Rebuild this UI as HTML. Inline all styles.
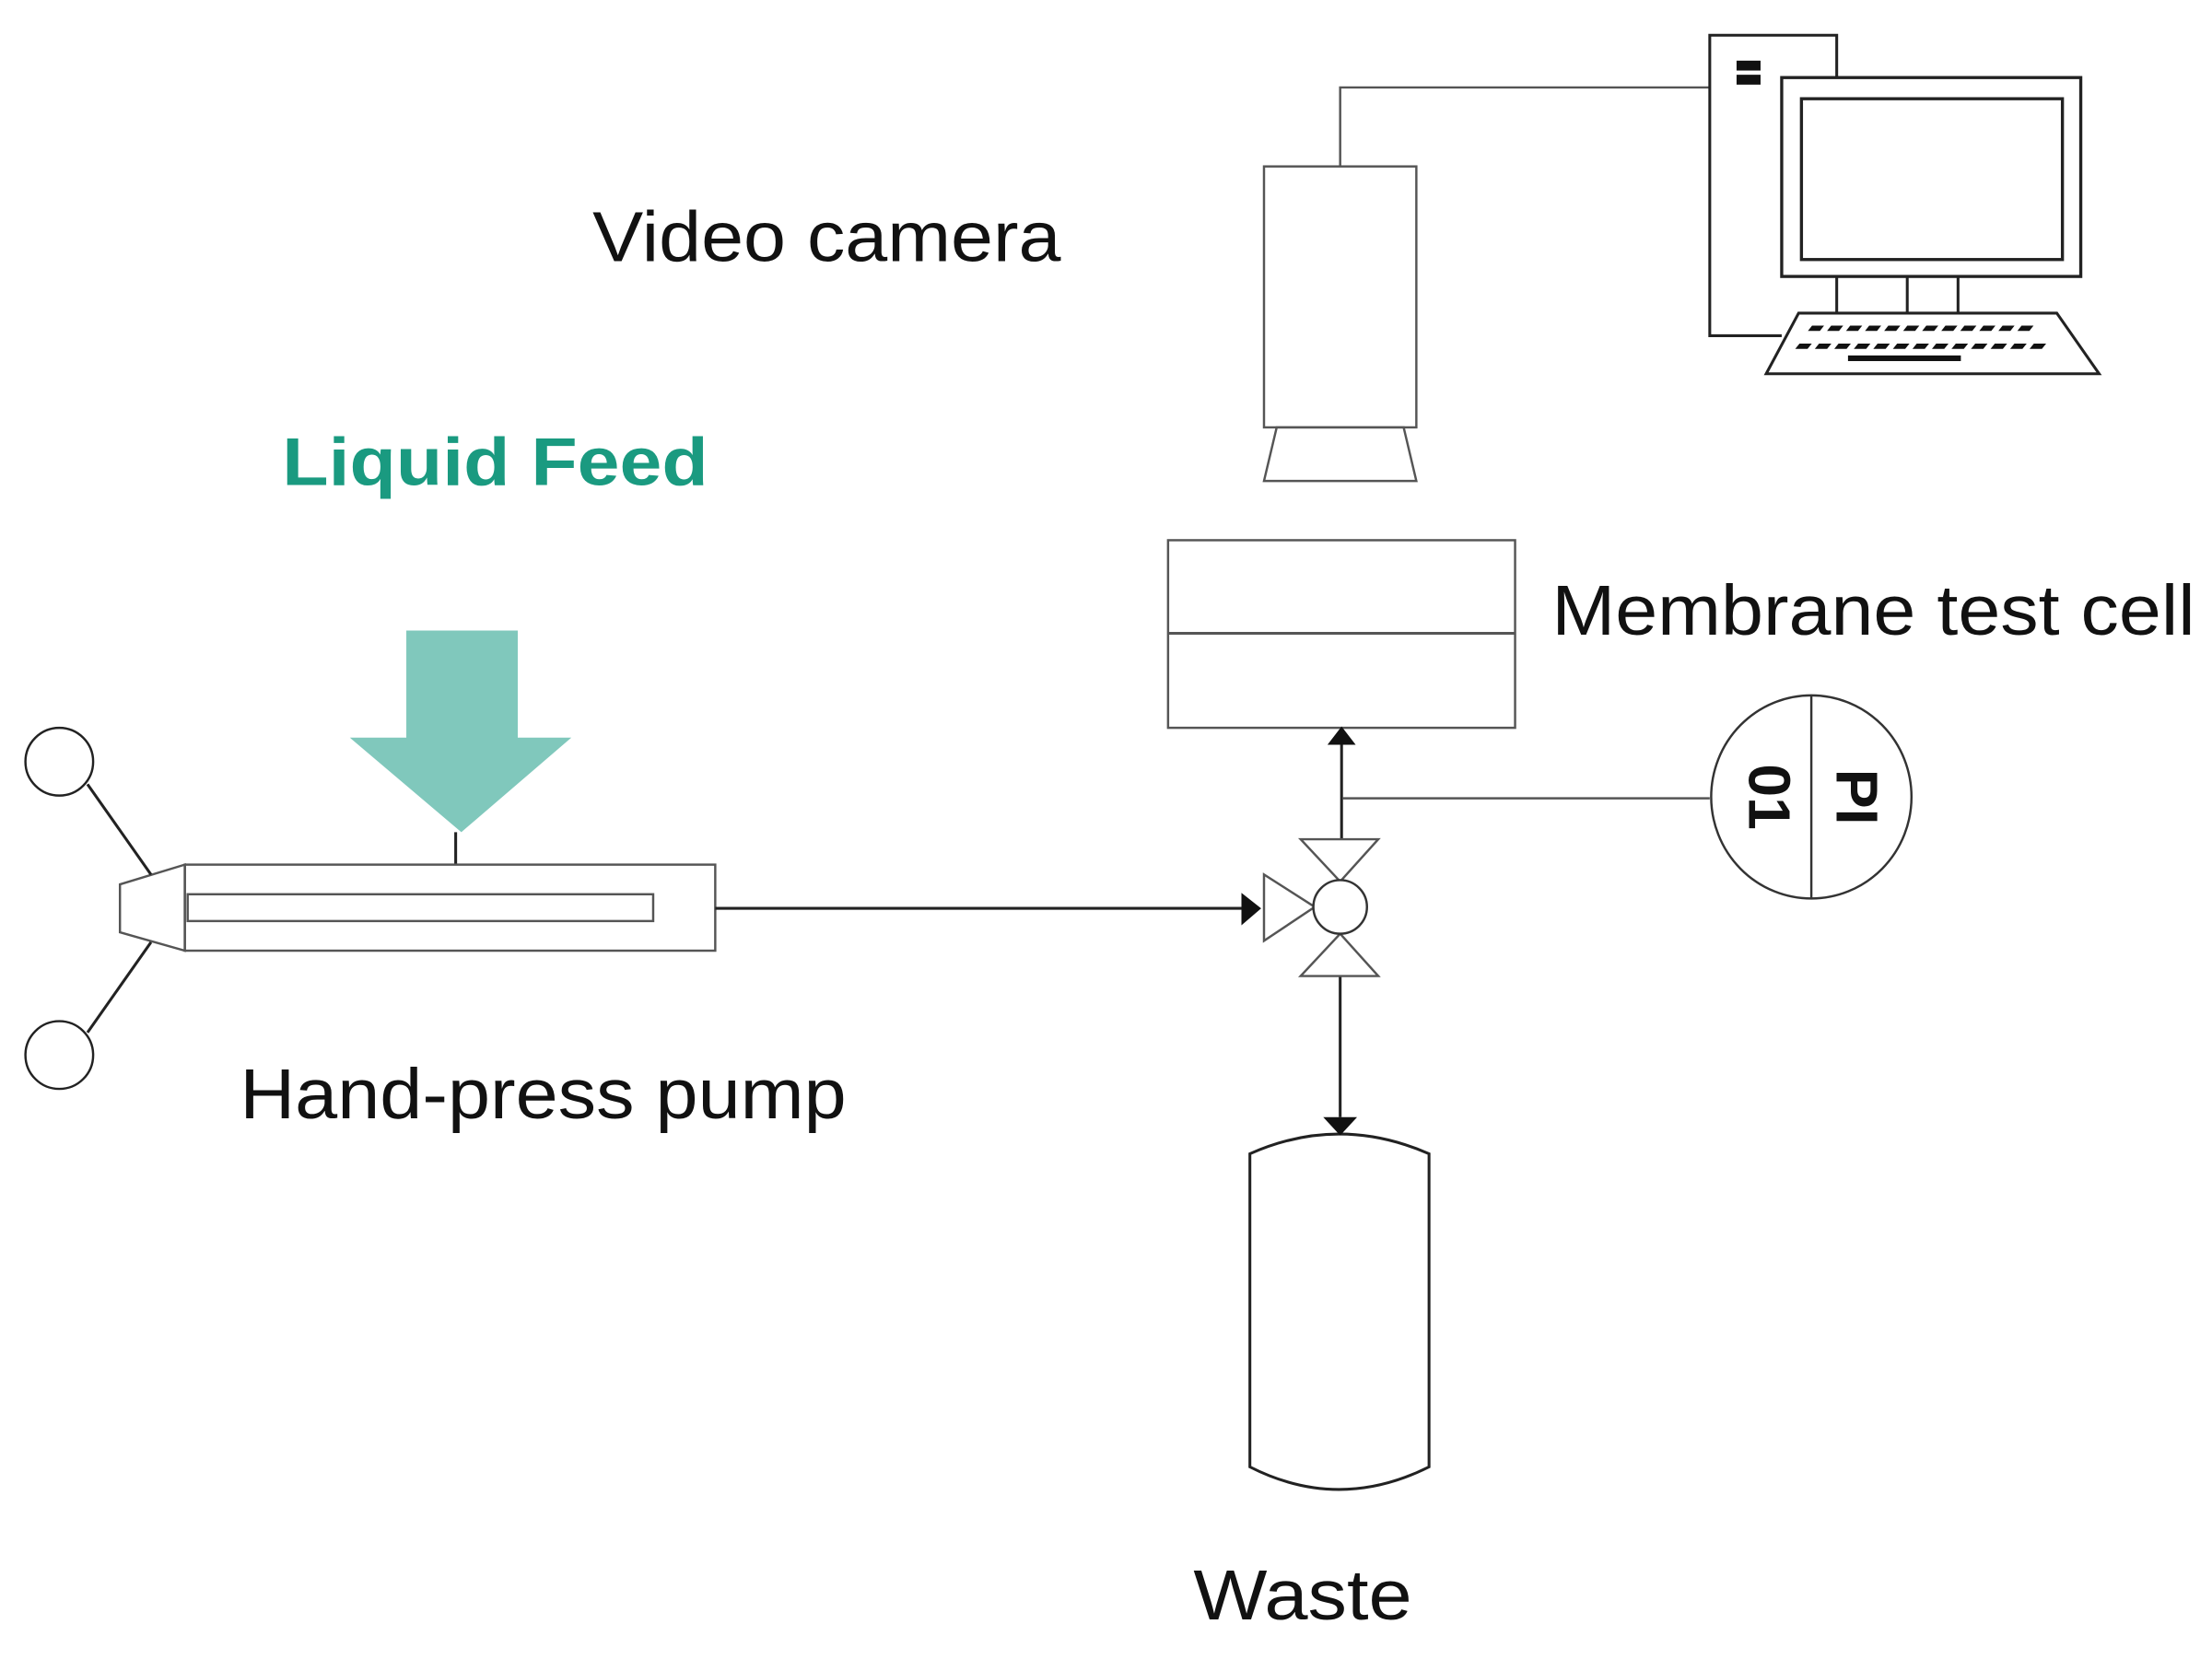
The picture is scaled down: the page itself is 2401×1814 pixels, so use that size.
<!DOCTYPE html>
<html><head><meta charset="utf-8"><style>html,body{margin:0;padding:0;background:#fff}svg{display:block}</style></head>
<body>
<svg width="2401" height="1814" viewBox="0 0 1568 1184.7" xmlns="http://www.w3.org/2000/svg" font-family="Liberation Sans, Arial, sans-serif">
<rect width="1568" height="1185" fill="#fff"/>
<g fill="none" stroke="#222" stroke-width="1.6">
<!-- camera -->
<rect x="896" y="118" width="108" height="185" stroke="#555"/>
<polygon points="905,303 995,303 1004,341 896,341" stroke="#555"/>
<polyline points="950,118 950,62 1212,62" stroke="#555"/>
<!-- computer -->
<polyline points="1263,238 1212,238 1212,25 1302,25 1302,55" stroke-width="2"/>
<rect x="1263" y="55" width="212" height="141" fill="#fff" stroke-width="2.2"/>
<rect x="1277" y="70" width="185" height="114" stroke-width="2.2"/>
<line x1="1302" y1="196" x2="1302" y2="222" stroke-width="2"/>
<line x1="1352" y1="196" x2="1352" y2="222" stroke-width="2"/>
<line x1="1388" y1="196" x2="1388" y2="222" stroke-width="2"/>
<polygon points="1275,222 1458,222 1488,265 1252,265" fill="#fff" stroke-width="2"/>
<!-- membrane cell -->
<rect x="828" y="383" width="246" height="133" stroke="#555"/>
<line x1="828" y1="449" x2="1074" y2="449" stroke="#555" stroke-width="2"/>
<!-- pump -->
<line x1="323" y1="590" x2="323" y2="613" stroke-width="2"/>
<rect x="131" y="613" width="376" height="61" stroke="#555"/>
<rect x="133" y="634" width="330" height="19" stroke="#555"/>
<polygon points="131,613 85,627 85,661 131,674" stroke="#555"/>
<line x1="107" y1="620" x2="62" y2="556" stroke-width="2"/>
<line x1="107" y1="668" x2="62" y2="732" stroke-width="2"/>
<circle cx="42" cy="540" r="24" fill="#fff"/>
<circle cx="42" cy="748" r="24" fill="#fff"/>
<!-- lines -->
<line x1="507" y1="644" x2="882" y2="644" stroke-width="2"/>
<line x1="951" y1="595" x2="951" y2="528" stroke-width="2"/>
<line x1="952" y1="566" x2="1212" y2="566" stroke="#555"/>
<line x1="950" y1="692" x2="950" y2="792" stroke-width="2"/>
<!-- valve -->
<polygon points="922,595 977,595 950,625" stroke="#555"/>
<polygon points="922,692 977,692 950,662" stroke="#555"/>
<polygon points="896,620 896,667 932,643" stroke="#555"/>
<circle cx="950" cy="643" r="19" fill="#fff" stroke="#333"/>
<!-- PI -->
<ellipse cx="1284" cy="565" rx="71" ry="72" stroke="#333"/>
<line x1="1284" y1="493" x2="1284" y2="637" stroke="#333"/>
<!-- waste -->
<path d="M886,818 Q949,790 1013,818 L1013,1040 Q949,1072 886,1040 Z" stroke-width="2"/>
</g>
<!-- arrowheads -->
<g fill="#111">
<polygon points="880,633 894,644 880,656"/>
<polygon points="941,528 961,528 951,515"/>
<polygon points="938,792 962,792 950,805"/>
<rect x="1231" y="43" width="17" height="7"/>
<rect x="1231" y="53" width="17" height="7"/>
<rect x="1310" y="252" width="80" height="4"/>
</g>
<g fill="#111">
<text x="1282" y="235" font-size="9" font-weight="bold" letter-spacing="2" textLength="162" lengthAdjust="spacingAndGlyphs">▰▰▰▰▰▰▰▰▰▰▰▰</text>
<text x="1273" y="248" font-size="9" font-weight="bold" letter-spacing="2" textLength="180" lengthAdjust="spacingAndGlyphs">▰▰▰▰▰▰▰▰▰▰▰▰▰</text>
</g>
<!-- liquid feed arrow -->
<polygon points="288,447 367,447 367,523 405,523 327,590 248,523 288,523" fill="#80c8bc"/>
<!-- text -->
<g fill="#111" font-size="50">
<text x="420" y="185" textLength="332" lengthAdjust="spacingAndGlyphs">Video camera</text>
<text x="1100" y="450" textLength="456" lengthAdjust="spacingAndGlyphs">Membrane test cell</text>
<text x="170" y="793" textLength="430" lengthAdjust="spacingAndGlyphs">Hand-press pump</text>
<text x="846" y="1148" textLength="155" lengthAdjust="spacingAndGlyphs">Waste</text>
</g>
<text x="200" y="344" font-size="48" font-weight="bold" fill="#1a9a80" textLength="302" lengthAdjust="spacingAndGlyphs">Liquid Feed</text>
<g font-size="42" font-weight="bold" fill="#111">
<text transform="translate(1302,565) rotate(90)" text-anchor="middle" x="0" y="0">PI</text>
<text transform="translate(1240,565) rotate(90)" text-anchor="middle" x="0" y="0">01</text>
</g>
</svg>
</body></html>
